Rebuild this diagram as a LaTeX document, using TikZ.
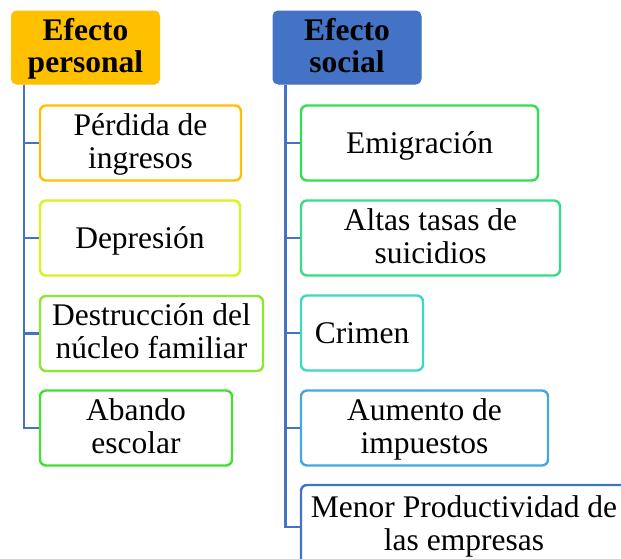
\documentclass[tikz,border=0pt]{standalone}
\usepackage{fontspec}
\setmainfont{Liberation Serif}
\usetikzlibrary{shapes}

\definecolor{oro}{HTML}{FFC000}
\definecolor{azul}{HTML}{4472C4}
\definecolor{amar}{HTML}{DAF21C}
\definecolor{lima}{HTML}{8CE82E}
\definecolor{verde}{HTML}{40E030}
\definecolor{verdeb}{HTML}{30E050}
\definecolor{menta}{HTML}{38DB88}
\definecolor{turq}{HTML}{3ED9C4}
\definecolor{celeste}{HTML}{45A8DC}

\tikzset{
  txt/.style={font=\fontsize{31.5}{33}\selectfont,align=center,inner sep=0pt,
    text height=21pt,text depth=0pt},
  dos/.style={text height=54pt,text depth=4pt},
  cabeza/.style={txt,shape=rectangle,rounded corners=5pt,draw=#1,fill=#1,line width=1pt,
    minimum width=148pt,minimum height=73pt,font=\fontsize{31.5}{32}\selectfont\bfseries,
    text height=53pt,text depth=4pt},
  efecto/.style={txt,shape=rectangle,rounded corners=6pt,draw=#1,fill=white,line width=2.4pt,
    minimum height=75pt},
  tronco/.style={draw=azul,line width=2.4pt}
}

\begin{document}
\begin{tikzpicture}[x=1pt,y=-1pt]
\useasboundingbox (0,0) rectangle (621,558);
\node[cabeza=oro] (pers) at (85.5,47.5) {Efecto\\personal};
\node[cabeza=azul] (soc) at (347,47.5) {Efecto\\social};

\node[efecto=oro,dos,minimum width=201pt] (a1) at (140.5,143) {Pérdida de\\ingresos};
\node[efecto=amar,minimum width=200pt] (a2) at (140,238) {Depresión};
\node[efecto=lima,dos,minimum width=223pt] (a3) at (151.5,333.5) {Destrucción del\\núcleo familiar};
\node[efecto=verde,dos,minimum width=192pt] (a4) at (136,428) {Abando\\escolar};

\node[efecto=verdeb,minimum width=237pt] (b1) at (419.5,143) {Emigración};
\node[efecto=menta,dos,minimum width=259pt] (b2) at (430.5,238) {Altas tasas de\\suicidios};
\node[efecto=turq,minimum width=122pt] (b3) at (362,333) {Crimen};
\node[efecto=celeste,dos,minimum width=247pt] (b4) at (424.5,428) {Aumento de\\impuestos};
\node[efecto=azul,dos,minimum width=326pt,minimum height=80pt] (b5) at (464,525) {Menor Productividad de\\las empresas};

\path[tronco] ([xshift=13pt]pers.south west) |- (a1.west);
\path[tronco] ([xshift=13pt]pers.south west) |- (a2.west);
\path[tronco] ([xshift=13pt]pers.south west) |- (a3.west);
\path[tronco] ([xshift=13pt]pers.south west) |- (a4.west);

\path[tronco] ([xshift=13pt]soc.south west) |- (b1.west);
\path[tronco] ([xshift=13pt]soc.south west) |- (b2.west);
\path[tronco] ([xshift=13pt]soc.south west) |- (b3.west);
\path[tronco] ([xshift=13pt]soc.south west) |- (b4.west);
\path[tronco] ([xshift=13pt]soc.south west) |- ([yshift=-2pt]b5.west);
\end{tikzpicture}
\end{document}
